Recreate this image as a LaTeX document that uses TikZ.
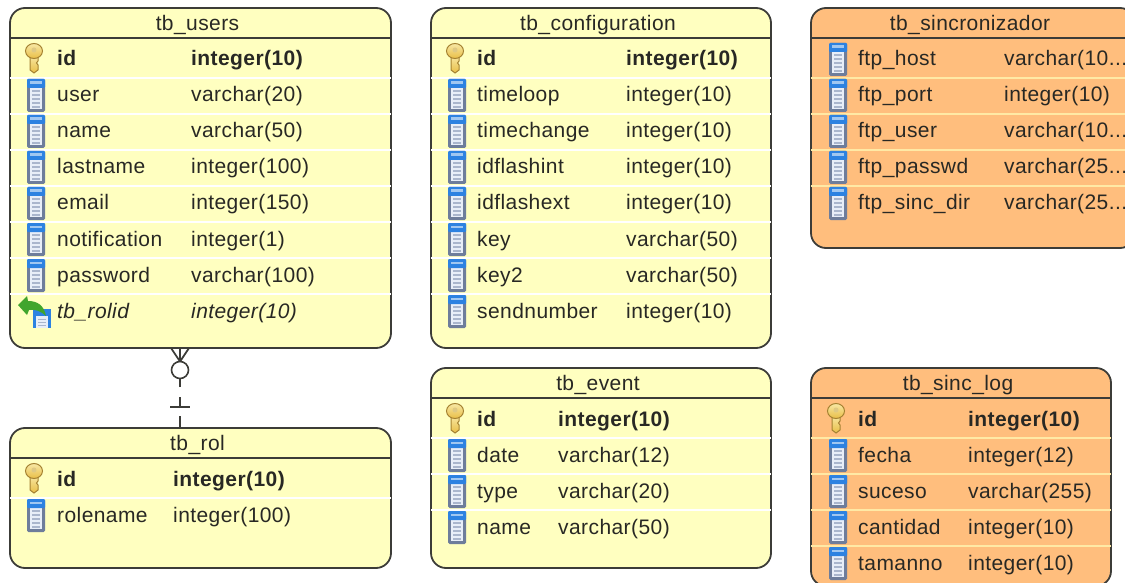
\documentclass[tikz,border=0pt]{standalone}
\usepackage{fontspec}
\setmainfont{Liberation Sans}
\newfontfamily\cellfont[LetterSpace=2]{Liberation Sans}
\newcommand{\cutdots}{.{}.{}.}
\definecolor{paleyellow}{RGB}{255,255,192}
\definecolor{paleorange}{RGB}{255,190,125}
\definecolor{orangesep}{RGB}{255,233,165}
\definecolor{edgegrey}{RGB}{60,60,56}
\definecolor{inkgrey}{RGB}{40,40,36}
\definecolor{iconblue}{RGB}{45,130,225}
\definecolor{iconbody}{RGB}{232,238,248}
\definecolor{iconedge}{RGB}{110,125,155}
\definecolor{iconline}{RGB}{170,182,205}
\definecolor{keygold}{RGB}{232,190,70}
\definecolor{keypale}{RGB}{248,232,165}
\definecolor{keyedge}{RGB}{165,130,50}
\definecolor{arrowgreen}{RGB}{65,165,45}
\tikzset{
  tablebox/.style={draw=edgegrey,line width=1.8pt,rounded corners=15pt,inner sep=0pt,outer sep=0pt,anchor=north west},
  titletext/.style={inner sep=0pt,text=inkgrey,font=\fontsize{21}{21}\selectfont\cellfont},
  celltext/.style={inner sep=0pt,anchor=base west,text=inkgrey,font=\fontsize{21}{21}\selectfont\cellfont},
  pics/colicon/.style={code={
    \fill[iconedge,rounded corners=1.5pt] (-9,-15) rectangle (9,18);
    \fill[iconbody] (-6.5,-6) rectangle (6,15);
    \fill[iconblue,rounded corners=1pt] (-9,-15) rectangle (9,-6);
    \fill[white!55!iconblue] (-6,-12.5) rectangle (6,-10);
    \foreach \yy in {-3,1,5,9,13}{\draw[iconline,line width=1.2pt] (-4,\yy) -- (3.5,\yy);}
  }},
  pics/keyicon/.style={code={
    \shade[top color=keypale,bottom color=keygold,draw=keyedge,line width=1pt] (-4,-3) -- (-4,12) -- (0,15) -- (4,12) -- (4,7) -- (2.5,5) -- (4,3) -- (4,-3) -- cycle;
    \shade[top color=keypale,bottom color=keygold,draw=keyedge,line width=1pt] (0,-7) ellipse (8.5 and 7.5);
    \fill[keypale!70!keyedge] (0,-8) ellipse (2.5 and 2.5);
  }},
  pics/fkicon/.style={code={
    \fill[iconblue] (15,-1) rectangle (33,18);
    \fill[iconbody] (18,6) rectangle (30,18);
    \foreach \yy in {9,12,15}{\draw[iconline,line width=1pt] (20,\yy) -- (28,\yy);}
    \fill[arrowgreen] (0,-5) -- (9,-14) -- (10,-9) .. controls (19,-9) and (26,-5) .. (28,6) .. controls (23,1) and (17,-1) .. (11,0) -- (9,5) -- cycle;
  }}
}
% name, x1, y1, x2, y2, header line y, fill, title
\newcommand{\tablebox}[8]{%
  \node[tablebox,fill=#7,minimum width=#4pt-#2pt,minimum height=#5pt-#3pt] (#1) at (#2,#3) {};
  \draw[edgegrey,line width=1.6pt] (#2,#6) -- (#4,#6);
  \node[titletext] (#1title) at ({(#2+#4)/2-3},{(#3+#6)/2+2}) {#8};
}
% table, x of name, x of type, y of first row, separator colour, icon x, rows
\newcommand{\tablerows}[7]{%
  \foreach \kind/\colname/\coltype [count=\rr from 0] in {#7}{
    \pgfmathsetmacro{\ry}{#4+36*\rr}
    \ifnum\rr>0
      \draw[#5,line width=1.5pt] (#1.west |- 0,\ry-16) -- (#1.east |- 0,\ry-16);
    \fi
    \if\kind k
      \pic at (#6-2,\ry) {keyicon};
      \node[celltext,font=\fontsize{21}{21}\selectfont\cellfont\bfseries] (#1name\rr) at (#2,\ry+8) {\colname};
      \node[celltext,font=\fontsize{21}{21}\selectfont\cellfont\bfseries] (#1type\rr) at (#3,\ry+8) {\coltype};
    \else\if\kind f
      \pic at (#6-18,\ry) {fkicon};
      \node[celltext,font=\fontsize{21}{21}\selectfont\cellfont\itshape] (#1name\rr) at (#2,\ry+8) {\colname};
      \node[celltext,font=\fontsize{21}{21}\selectfont\cellfont\itshape] (#1type\rr) at (#3,\ry+8) {\coltype};
    \else
      \pic at (#6,\ry) {colicon};
      \node[celltext] (#1name\rr) at (#2,\ry+8) {\colname};
      \node[celltext] (#1type\rr) at (#3,\ry+8) {\coltype};
    \fi\fi
  }
}
\begin{document}
\begin{tikzpicture}[x=1pt,y=-1pt]
\useasboundingbox (0,0) rectangle (1125,583);
\clip (0,0) rectangle (1125,583);

\tablebox{users}{10}{8}{391}{348}{38}{paleyellow}{tb\_users}
\tablerows{users}{57}{191}{58}{white}{36}{
  k/id/integer(10), c/user/varchar(20), c/name/varchar(50), c/lastname/integer(100),
  c/email/integer(150), c/notification/integer(1), c/password/varchar(100), f/tb\_rolid/integer(10)}

\tablebox{config}{431}{8}{771}{348}{38}{paleyellow}{tb\_configuration}
\tablerows{config}{477}{626}{58}{white}{457}{
  k/id/integer(10), c/timeloop/integer(10), c/timechange/integer(10), c/idflashint/integer(10),
  c/idflashext/integer(10), c/key/varchar(50), c/key2/varchar(50), c/sendnumber/integer(10)}

\tablebox{sincro}{811}{8}{1135}{248}{38}{paleorange}{tb\_sincronizador}
\tablerows{sincro}{858}{1004}{58}{orangesep}{838}{
  c/ftp\_host/varchar(10\cutdots, c/ftp\_port/integer(10), c/ftp\_user/varchar(10\cutdots,
  c/ftp\_passwd/varchar(25\cutdots, c/ftp\_sinc\_dir/varchar(25\cutdots}

\tablebox{rol}{10}{428}{391}{568}{458}{paleyellow}{tb\_rol}
\tablerows{rol}{57}{173}{478}{white}{36}{k/id/integer(10), c/rolename/integer(100)}

\tablebox{event}{431}{368}{771}{568}{398}{paleyellow}{tb\_event}
\tablerows{event}{477}{558}{418}{white}{457}{
  k/id/integer(10), c/date/varchar(12), c/type/varchar(20), c/name/varchar(50)}

\tablebox{sinclog}{811}{368}{1111}{586}{398}{paleorange}{tb\_sinc\_log}
\tablerows{sinclog}{858}{968}{418}{orangesep}{838}{
  k/id/integer(10), c/fecha/integer(12), c/suceso/varchar(255), c/cantidad/integer(10), c/tamanno/integer(10)}

% relationship tb_rol -> tb_users
\coordinate (relrol) at ([xshift=-20.5pt]rol.north);
\coordinate (relusers) at ([xshift=-20.5pt]users.south);
\draw[edgegrey,line width=1.6pt,dash pattern=on 12pt off 8pt on 11pt off 10pt on 40pt off 0pt] (relrol) -- (relusers);
\coordinate (relbar) at ([yshift=21pt]relrol);
\draw[edgegrey,line width=1.6pt] ([xshift=-10pt]relbar) -- ([xshift=10pt]relbar);
\node[circle,draw=edgegrey,fill=white,line width=1.6pt,minimum size=17pt,inner sep=0pt,outer sep=0pt] (relcircle) at ([yshift=-22pt]relusers) {};
\draw[edgegrey,line width=1.8pt] (relcircle.north) -- ([xshift=-9pt]relusers) (relcircle.north) -- ([xshift=9pt]relusers);
\end{tikzpicture}
\end{document}
